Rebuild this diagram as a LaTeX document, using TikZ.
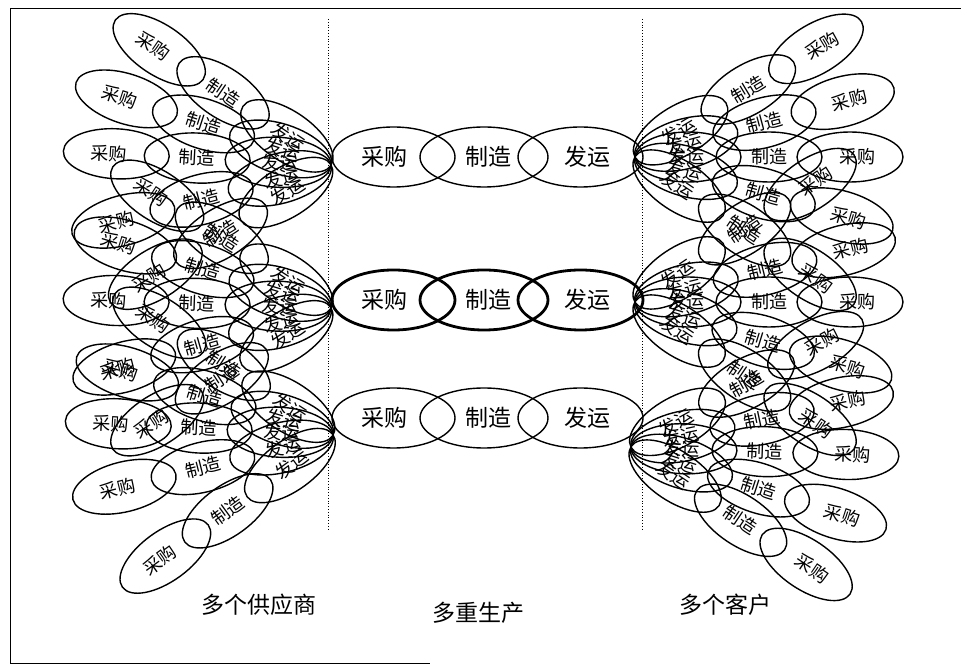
\documentclass[tikz,border=0pt]{standalone}
\usepackage{fontspec}
\newfontfamily\cjk{Noto Sans CJK SC}
\tikzset{
  ell/.style={draw, line width=1.4pt},
  plbl/.style={font=\cjk\fontsize{18}{18}\selectfont, inner sep=0pt, transform shape},
  clbl/.style={font=\cjk\fontsize{23}{23}\selectfont, inner sep=0pt},
  blbl/.style={font=\cjk\fontsize{23}{23}\selectfont, inner sep=0pt},
  divider/.style={dotted, line width=0.8pt},
  frame/.style={line width=0.9pt}
}
% left fan: #1 name, #2 x, #3 y, #4 list of angles (upward positive)
\newcommand\leftfan[4]{%
  \foreach \t [count=\k] in {#4} {%
    \pgfmathsetmacro\phi{180-\t}%
    \pgfmathsetmacro\s{abs(\t)>25 ? 77 : 81}%
    \begin{scope}[shift={(#2,#3)}, rotate=\phi]
      \draw[ell] (52,0) ellipse [x radius=53, y radius=25];
      \draw[ell] (52+\s,0) ellipse [x radius=53, y radius=25];
      \draw[ell] (52+2*\s,0) ellipse [x radius=53, y radius=25];
      \node[plbl, rotate=180] (#1-\k-f) at (50,0) {发运};
      \node[plbl, rotate=180] (#1-\k-z) at (52+\s,0) {制造};
      \node[plbl, rotate=180] (#1-\k-c) at (59+2*\s,0) {采购};
    \end{scope}
  }%
}
\newcommand\rightfan[4]{%
  \foreach \t [count=\k] in {#4} {%
    \pgfmathsetmacro\s{abs(\t)>25 ? 79 : 81}%
    \begin{scope}[shift={(#2,#3)}, rotate=\t]
      \draw[ell] (52,0) ellipse [x radius=53, y radius=25];
      \draw[ell] (52+\s,0) ellipse [x radius=53, y radius=25];
      \draw[ell] (52+2*\s,0) ellipse [x radius=53, y radius=25];
      \node[plbl] (#1-\k-f) at (50,0) {发运};
      \node[plbl] (#1-\k-z) at (52+\s,0) {制造};
      \node[plbl] (#1-\k-c) at (59+2*\s,0) {采购};
    \end{scope}
  }%
}
\begin{document}
\begin{tikzpicture}[x=1pt,y=1pt]
\useasboundingbox (0,0) rectangle (961,669);
% frame
\draw[frame] (961,661) -- (10,661) -- (10,6) -- (430,6);
% dividers
\draw[divider] (328,650) -- (328,138);
\draw[divider] (642,650) -- (642,138);
% supplier fans
\leftfan{lt}{330}{504}{34,18,3,-15,-32}
\leftfan{lm}{330}{361}{33,17,2,-16,-33}
\leftfan{lb}{332}{234}{33,17,3,-14,-36}
% customer fans
\rightfan{rt}{636}{512}{31,15,0,-16,-34}
\rightfan{rm}{636}{367}{34,14,0,-17,-34}
\rightfan{rb}{632}{222}{29,12,-2,-18,-34}
% central production chains
\foreach \y/\w/\n in {512/1.4/a, 369/2.8/b, 251/1.4/c} {
  \draw[line width=\w pt] (393.5,\y) ellipse [x radius=61.5, y radius=30];
  \draw[line width=\w pt] (484,\y) ellipse [x radius=64, y radius=30];
  \draw[line width=\w pt] (580.5,\y) ellipse [x radius=62.5, y radius=30];
  \node[clbl] (c\n1) at (384,\y) {采购};
  \node[clbl] (c\n2) at (488,\y) {制造};
  \node[clbl] (c\n3) at (587,\y) {发运};
}
% bottom captions
\node[blbl] (sup) at (259,64) {多个供应商};
\node[blbl] (mfg) at (478,56) {多重生产};
\node[blbl] (cus) at (725,64) {多个客户};
\end{tikzpicture}
\end{document}
